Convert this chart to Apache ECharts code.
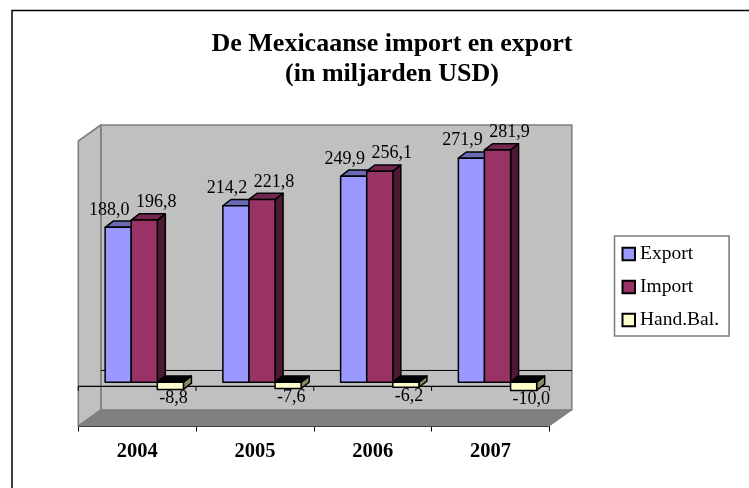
<!DOCTYPE html>
<html><head><meta charset="utf-8">
<style>html,body{margin:0;padding:0;background:#fff;overflow:hidden}#c{width:749px;height:488px}</style>
<script src="https://cdn.jsdelivr.net/npm/echarts@6/dist/echarts.min.js"></script>
</head><body><div id="c"></div>
<script>
const categories = ['2004','2005','2006','2007'];
const exportValues = [188.0,214.2,249.9,271.9];
const importValues = [196.8,221.8,256.1,281.9];
const balanceValues = [-8.8,-7.6,-6.2,-10.0];
const seriesNames = ['Export','Import','Hand.Bal.'];
const FONT = '"Liberation Serif"';
const chart = echarts.init(document.getElementById('c'), null, {renderer:'canvas'});
const WALL_DX = 22.5, WALL_DY = -16;
const BAR_SHIFT_X = 6, BAR_SHIFT_Y = -4.3, BAR_DX = 8, BAR_DY = -6.2, BAR_W = 26.1, GROUP_SHIFT = 1.1;
const yMin = -48, yMax = 298;
const fmt = v => v.toFixed(1).replace('.', ',');
const poly = (points, fill, stroke, lw) => ({type:'polygon', shape:{points}, style:{fill, stroke:stroke||'none', lineWidth:lw===undefined?1.5:lw, lineJoin:'round'}});

function wallRender(params, api) {
  if (params.dataIndex !== 0) return {type:'group', children:[]};
  const cs = params.coordSys;
  const L = cs.x, R = cs.x + cs.width, T = api.coord([0,yMax])[1], B = api.coord([0,yMin])[1], Z = api.coord([0,0])[1];
  const dx = WALL_DX, dy = WALL_DY, g = '#808080';
  const children = [
    poly([[L+dx,T+dy],[R+dx,T+dy],[R+dx,B+dy],[L+dx,B+dy]], '#c0c0c0', g, 1.6),
    poly([[L,T],[L+dx,T+dy],[L+dx,B+dy],[L,B]], '#c0c0c0', g, 1.6),
    poly([[L,B],[L+dx,B+dy],[R+dx,B+dy],[R,B]], '#808080', g, 1),
    {type:'line', shape:{x1:L+dx,y1:Z+dy,x2:R+dx,y2:Z+dy}, style:{stroke:'#000',lineWidth:1}},
    {type:'line', shape:{x1:L,y1:Z,x2:R,y2:Z}, style:{stroke:'#000',lineWidth:1.2}}
  ];
  for (let i=0;i<=categories.length;i++) {
    const x = L + i*cs.width/categories.length;
    children.push({type:'line', shape:{x1:x,y1:Z,x2:x,y2:Z+4.5}, style:{stroke:'#000',lineWidth:1}});
  }
  return {type:'group', children};
}
function barRender(seriesIndex, front, top, side, labelDx) {
  return function(params, api) {
    const idx = api.value(0), v = api.value(1);
    const cx = api.coord([idx,0])[0];
    const y0 = api.coord([idx,0])[1] + BAR_SHIFT_Y;
    const y1 = api.coord([idx,v])[1] + BAR_SHIFT_Y;
    const x0 = cx + BAR_SHIFT_X + GROUP_SHIFT + (seriesIndex-1.5)*BAR_W;
    const x1 = x0 + BAR_W;
    const dx = BAR_DX, dy = BAR_DY;
    const yt = Math.min(y0,y1), yb = Math.max(y0,y1);
    const children = [
      poly([[x1,yt],[x1+dx,yt+dy],[x1+dx,yb+dy],[x1,yb]], side, '#000'),
      poly([[x0,yt],[x0+dx,yt+dy],[x1+dx,yt+dy],[x1,yt]], top, '#000'),
      poly([[x0,yt],[x1,yt],[x1,yb],[x0,yb]], front, '#000')
    ];
    const text = fmt(v);
    const style = v>=0
      ? {text, x:(x0+x1)/2+labelDx, y:y1-17.5, align:'center'}
      : {text, x:x0+labelDx, y:yb+9, align:'left'};
    children.push({type:'text', z2:100, style:Object.assign(style,{verticalAlign:'middle', fill:'#000', font:'18px '+FONT})});
    return {type:'group', children};
  };
}
const mkData = arr => arr.map((v,i)=>[i,v]);
chart.setOption({
  animation:false,
  backgroundColor:'#fff',
  title:{
    text:'De Mexicaanse import en export\n(in miljarden USD)',
    left:387, top:24, textAlign:'center',
    textStyle:{fontFamily:FONT,fontWeight:'bold',fontSize:26,lineHeight:30,color:'#000'}
  },
  legend:{
    orient:'vertical', left:614.5, top:236, data:seriesNames,
    backgroundColor:'#fff', borderColor:'#808080', borderWidth:1.6, padding:[8,10,6,7], itemGap:13,
    itemWidth:12.5,itemHeight:12.5, icon:'rect',
    textStyle:{fontFamily:FONT,fontSize:19.5,lineHeight:20,color:'#000'},
    selectedMode:false
  },
  graphic:[{type:'rect', z:-10, silent:true, shape:{x:12,y:10.5,width:800,height:600}, style:{fill:'#fff',stroke:'#000',lineWidth:1.5}}],
  grid:{left:78.3,top:141,width:471,height:285},
  xAxis:{type:'category',data:categories,boundaryGap:true,
    axisLine:{show:true,onZero:false,lineStyle:{color:'#000',width:1.2}},
    axisTick:{show:true,length:5.5,lineStyle:{color:'#000'}},
    axisLabel:{fontFamily:FONT,fontWeight:'bold',fontSize:20.5,color:'#000',margin:15},
    splitLine:{show:false}},
  yAxis:{type:'value',min:yMin,max:yMax,show:false,splitLine:{show:false}},
  series:[
    {type:'custom',name:'wall',silent:true,z:1,renderItem:wallRender,data:mkData(exportValues),encode:{x:0,y:1},clip:false},
    {type:'custom',name:seriesNames[0],z:2,renderItem:barRender(0,'#9999ff','#6b6bb3','#4d4d80',-9),data:mkData(exportValues),encode:{x:0,y:1},itemStyle:{color:'#9999ff',borderColor:'#000',borderWidth:1.3},clip:false},
    {type:'custom',name:seriesNames[1],z:3,renderItem:barRender(1,'#993366','#732650','#4d1a33',12),data:mkData(importValues),encode:{x:0,y:1},itemStyle:{color:'#993366',borderColor:'#000',borderWidth:1.3},clip:false},
    {type:'custom',name:seriesNames[2],z:4,renderItem:barRender(2,'#ffffcc','#000000','#8a8a66',2),data:mkData(balanceValues),encode:{x:0,y:1},itemStyle:{color:'#ffffcc',borderColor:'#000',borderWidth:1.3},clip:false}
  ]
});
</script></body></html>
